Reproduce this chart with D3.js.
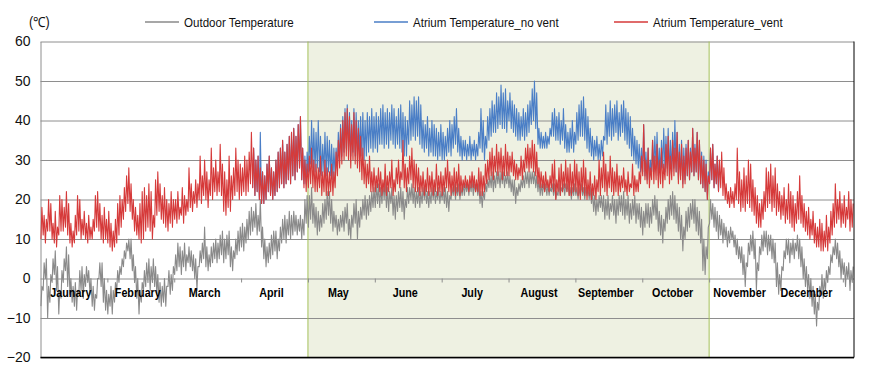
<!DOCTYPE html>
<html><head><meta charset="utf-8">
<script src="https://cdn.jsdelivr.net/npm/d3@7"></script>
<style>body{margin:0;background:#fff}svg{display:block}</style>
</head><body><svg id="c" width="874" height="382"></svg>
<script>
// ---- categories / ticks ----
const months = ["Jaunary","February","March","April","May","June","July","August","September","October","November","December"];
const yTicks = [-20,-10,0,10,20,30,40,50,60];
const hoursPerMonthTick = 720;
const shadeStartHour = 2880, shadeEndHour = 7200;
const seriesNames = ["Outdoor Temperature","Atrium Temperature_no vent","Atrium Temperature_vent"];

// ---- daily low / high (°C), day 0..364 ----
const outdoorLow = [
-7,-3,0,-10,-6,-1,1,-3,-9,-5, -1,2,-2,-4,-6,-7,-8,-4,-3,-5, -2,-1,-4,-7,-8,-5,0,-2,-6,-8,
-9,-7,-9,-6,-3,-1,1,3,5,7, 5,2,-1,-5,-9,-6,-3,-2,-1,-3, -1,-2,-4,-6,-7,-6,-7,-2,-4,-3,
1,2,3,1,3,2,4,3,2,0, -3,3,4,5,3,2,3,4,5,4, 5,6,4,5,6,3,2,5,6,7,
8,7,9,10,11,12,13,11,12,8, 5,3,4,5,6,7,5,7,9,10, 9,11,10,11,12,11,12,10,11,14,
13,15,14,13,11,12,13,14,15,16, 14,12,13,11,12,13,12,14,11,10, 13,14,10,13,15,16,15,16,17,18,
18,19,18,19,20,18,17,19,16,15, 17,18,17,15,18,19,20,19,18,19, 18,19,20,19,18,19,20,19,20,19,
20,19,18,17,20,21,20,21,20,21, 21,22,21,22,21,22,21,19,18,20, 22,23,23,22,23,24,23,24,23,24,
23,22,21,19,21,22,23,23,24,23, 24,24,23,22,21,21,22,21,21,22, 21,20,21,21,22,21,22,21,20,21,
21,20,21,21,20,21,20,19,17,16, 17,18,17,15,16,15,17,16,14,16, 17,16,15,16,14,15,16,14,15,13,
11,13,14,13,14,16,15,12,11,9, 12,14,15,16,15,14,12,10,7,10, 12,13,15,14,12,11,9,2,1,5,
14,15,13,12,10,11,9,10,8,9, 10,8,6,5,4,1,-2,3,6,7, 5,-3,2,6,7,8,6,7,5,4,
-2,-4,-3,2,5,6,4,6,5,7, 5,3,0,-2,-3,-5,-7,-9,-12,-8, -4,-5,-3,-1,1,4,6,5,3,0,
1,-2,0,-3,-1];
const outdoorHigh = [
-2,4,5,-2,1,5,7,3,-3,2, 5,8,6,0,-2,-1,-3,2,3,1, 3,2,0,-2,-4,0,4,4,0,-3,
-4,-2,-3,-1,2,3,5,7,9,10, 10,6,3,0,-3,-1,2,4,5,3, 5,3,1,-1,-2,0,-2,2,1,3,
6,9,8,7,9,6,8,7,6,5, 3,7,9,13,8,6,8,9,10,9, 11,12,10,11,12,8,7,10,12,13,
14,13,15,17,18,17,19,16,20,13, 10,8,9,11,12,12,10,13,15,16, 15,17,16,17,16,15,16,15,20,21,
21,23,19,18,17,16,19,20,22,22, 20,17,16,15,16,17,18,19,15,16, 19,20,17,18,20,21,20,21,22,23,
24,24,23,24,25,23,22,23,21,21, 22,23,22,20,23,23,24,23,22,23, 22,23,23,22,22,23,23,22,23,22,
23,23,22,21,23,24,23,24,23,24, 24,24,24,25,24,24,24,22,22,24, 25,26,27,26,27,27,27,27,26,27,
26,25,25,23,24,25,26,27,27,27, 27,27,26,25,24,24,24,24,23,24, 24,22,24,23,24,24,24,23,23,24,
23,23,24,23,23,23,23,22,21,20, 21,21,21,20,21,19,21,20,20,21, 21,22,20,21,19,20,21,19,19,18,
17,19,19,18,20,21,20,17,16,15, 18,20,21,22,21,19,18,16,13,17, 18,19,20,20,18,17,15,10,8,13,
20,19,18,17,16,15,14,13,12,13, 12,11,10,8,8,6,4,9,11,12, 10,4,8,11,12,12,11,11,10,9,
4,1,3,7,10,10,9,10,9,11, 10,8,5,3,1,0,-2,-4,-6,-2, 1,0,2,3,6,8,10,9,7,5,
4,3,4,2,3];
const ventLow = [
10,11,9,12,12,10,9,8,11,12, 12,13,11,9,8,9,11,12,10,11, 10,9,10,10,12,13,12,10,9,10,
9,8,7,8,9,11,13,15,17,19, 17,15,12,11,10,9,10,12,13,12, 10,13,16,17,15,14,13,12,14,13,
15,14,15,16,14,16,17,18,17,19, 18,20,19,21,20,18,21,20,22,21, 22,21,17,16,18,17,20,21,22,20,
21,22,21,22,24,23,21,22,20,19, 19,20,22,21,20,21,22,23,24,23, 24,25,24,26,25,27,28,25,23,22,
23,24,23,22,22,23,21,22,21,21, 22,21,23,26,28,29,30,31,30,28, 30,29,28,27,25,24,23,24,22,22,
22,23,22,21,22,21,22,23,21,22, 24,23,25,23,22,24,25,23,22,22, 21,22,21,22,21,22,21,22,21,22,
21,22,23,22,21,22,21,22,21,22, 23,23,22,23,23,22,22,21,21,22, 24,25,26,25,27,26,27,25,26,26,
26,27,26,25,25,26,25,27,28,27, 28,27,26,24,23,23,22,23,22,23, 22,20,22,21,22,23,22,21,21,22,
22,21,20,22,21,20,21,20,21,20, 22,21,23,22,21,23,22,21,22,21, 22,23,22,21,22,23,21,22,22,24,
26,25,24,23,25,24,25,23,24,23, 25,26,24,25,26,27,24,25,23,24, 26,25,27,26,27,25,24,23,22,20,
24,25,23,24,22,23,21,20,19,18, 19,18,20,19,17,18,17,19,18,17, 16,14,13,13,15,17,18,19,17,18,
16,17,15,16,14,15,14,13,12,14, 15,14,13,12,11,10,11,9,8,8, 7,7,8,7,9,11,13,14,15,13,
14,13,15,12,13];
const ventHigh = [
18,16,15,20,19,14,17,13,21,20, 18,22,19,14,12,16,21,20,15,17, 14,16,13,15,21,22,19,16,18,15,
17,14,12,15,19,21,20,23,26,28, 24,20,18,16,19,22,23,21,24,22, 16,25,27,24,21,23,20,19,22,20,
20,22,18,23,21,20,28,24,22,25, 24,31,26,30,27,25,33,28,30,27, 34,29,27,25,31,26,28,33,30,29,
28,31,30,32,37,33,30,31,28,27, 26,29,31,28,27,30,32,33,35,32, 34,36,37,38,36,39,41,33,30,29,
31,33,30,29,28,31,27,30,28,27, 29,27,32,35,38,40,42,43,41,39, 42,40,38,36,33,30,29,31,27,28,
26,28,27,25,29,26,27,30,25,28, 30,27,35,29,28,31,33,30,29,28, 26,27,25,28,26,27,25,29,26,27,
26,28,30,27,26,28,27,29,26,25, 26,25,26,27,26,25,28,27,26,29, 30,32,33,31,34,32,33,31,34,32,
31,32,30,29,28,31,30,33,34,33, 35,34,32,28,27,26,27,25,26,29, 30,25,28,29,27,30,28,29,27,30,
29,27,28,30,28,25,27,24,26,25, 30,28,32,29,27,31,28,27,29,26, 26,28,25,27,24,29,26,25,27,31,
39,30,33,28,35,31,34,30,33,29, 34,36,31,35,33,37,32,34,31,33, 35,32,38,33,37,35,31,30,29,26,
33,34,29,31,30,32,28,24,22,23, 22,24,33,27,25,28,26,30,29,25, 23,21,19,20,22,28,27,29,26,28,
24,22,21,23,20,24,22,21,19,22, 26,21,19,17,18,15,17,14,13,15, 14,12,16,13,17,19,24,20,22,19,
21,18,22,20,19];
// no-vent series differs from the vent series only around the summer: days 95..304
const noVentStartDay = 95;
const noVentLow = [
23,21,22,20,19,
19,20,22,21,20,21,22,23,24,23, 24,25,24,26,25,27,28,25,24,24,
27,29,28,27,28,27,26,27,26,27, 26,25,26,28,30,31,32,33,32,31, 32,31,31,32,31,30,31,32,33,32,
33,32,34,34,33,34,33,35,34,33, 34,33,32,31,31,34,35,36,35,36, 34,33,32,33,31,32,31,31,30,31,
30,30,31,32,31,33,34,32,31,30, 31,30,31,30,31,30,31,33,32,30, 33,35,36,37,37,38,39,38,38,37,
40,38,37,36,35,35,36,35,36,37, 39,40,38,34,33,33,33,33,34,36, 36,35,35,34,35,33,32,32,33,32,
34,35,36,36,35,33,32,31,30,31, 30,30,31,35,34,36,35,36,37,35, 36,37,35,34,33,31,30,29,28,27,
27,26,25,25,27,27,28,26,27,28, 27,28,26,27,28,27,25,26,24,25, 26,25,27,26,27,25,24,23,22,20,
24,25,23,24,22];
const noVentHigh = [
33,30,31,37,27,
26,29,31,28,27,30,32,33,35,32, 34,36,37,38,36,39,41,33,31,32,
36,40,38,37,40,36,34,37,36,35, 34,33,33,37,39,41,43,44,42,40, 43,42,40,41,42,40,42,41,43,41,
42,41,43,44,42,43,42,44,43,41, 43,44,42,41,40,45,44,46,45,46, 44,40,39,41,38,40,39,38,37,39,
37,36,38,40,39,41,43,38,36,35, 35,34,36,34,35,34,37,43,40,36, 41,43,45,44,47,46,49,47,48,45,
47,45,44,43,42,41,43,42,44,45, 48,50,47,38,37,36,37,36,38,42, 43,41,42,40,43,39,37,38,40,37,
42,44,45,46,43,41,38,36,35,36, 34,35,36,44,42,45,43,44,45,42, 44,45,43,42,41,38,36,35,34,33,
39,32,33,30,35,36,37,33,35,38, 36,38,35,37,40,37,34,35,33,34, 35,33,38,34,37,35,32,31,30,27,
33,34,29,31,30];

// ---- drawing ----
const svg = d3.select("#c");
const FONT = "'Liberation Sans', Arial, sans-serif";
const x = d3.scaleLinear().domain([0, 8760]).range([40.5, 854]);
const y = d3.scaleLinear().domain([-20, 60]).range([357.5, 41.5]);
const colors = {outdoor: "#8a8a8a", noVent: "#4a7ec6", vent: "#d63a3a"};

// shaded ventilation period
svg.append("rect")
  .attr("x", x(shadeStartHour)).attr("y", y(60))
  .attr("width", x(shadeEndHour) - x(shadeStartHour))
  .attr("height", y(-20) - y(60))
  .attr("fill", "#eef1e2");

// horizontal gridlines
svg.append("g")
  .attr("transform", `translate(${x(0)},0)`)
  .call(d3.axisLeft(y).tickValues(yTicks).tickSize(-(x(8760) - x(0))).tickFormat(""))
  .call(g => g.select(".domain").remove())
  .call(g => g.selectAll("line").attr("stroke", "#8e8e8e").attr("stroke-width", 1));

// shade borders
[shadeStartHour, shadeEndHour].forEach(h => {
  svg.append("line").attr("x1", x(h)).attr("x2", x(h)).attr("y1", y(60)).attr("y2", y(-20))
    .attr("stroke", "#a4c05a").attr("stroke-width", 1);
});

// y axis labels
svg.append("g")
  .attr("transform", `translate(${x(0)},0)`)
  .call(d3.axisLeft(y).tickValues(yTicks).tickSize(0).tickPadding(10))
  .call(g => g.select(".domain").attr("stroke", "#8e8e8e"))
  .call(g => g.selectAll("text").attr("font-family", FONT).attr("font-size", 14).attr("fill", "#111"));

// series
function pts(lo, hi, startDay) {
  const p = [];
  for (let i = 0; i < lo.length; i++) {
    const d = startDay + i;
    p.push([d * 24 + 5, lo[i]]);
    p.push([d * 24 + 15, hi[i]]);
  }
  return p;
}
const line = d3.line().x(d => x(d[0])).y(d => y(d[1]));
const series = [
  {data: pts(outdoorLow, outdoorHigh, 0), color: colors.outdoor},
  {data: pts(noVentLow, noVentHigh, noVentStartDay), color: colors.noVent},
  {data: pts(ventLow, ventHigh, 0), color: colors.vent}
];
series.forEach(s => {
  svg.append("path").attr("d", line(s.data)).attr("fill", "none")
    .attr("stroke", s.color).attr("stroke-width", 1.1).attr("stroke-linejoin", "round");
});

// x axis at 0 with month ticks
svg.append("g")
  .attr("transform", `translate(0,${y(0)})`)
  .call(d3.axisBottom(x).tickValues(d3.range(hoursPerMonthTick, 8760, hoursPerMonthTick)).tickSize(4).tickFormat(""))
  .call(g => g.select(".domain").remove())
  .call(g => g.selectAll("line").attr("stroke", "#8e8e8e"));

svg.append("g").selectAll("text").data(months).join("text")
  .attr("transform", (d, i) => `translate(${x((i + 0.5) * hoursPerMonthTick) - 3},${y(0) + 18.5}) scale(0.86,1)`)
  .attr("text-anchor", "middle")
  .attr("font-family", FONT).attr("font-weight", "bold").attr("font-size", 12.5)
  .attr("fill", "#000").text(d => d);

// bottom and right borders
svg.append("line").attr("x1", x(0)).attr("x2", x(8760)).attr("y1", y(-20)).attr("y2", y(-20))
  .attr("stroke", "#000").attr("stroke-width", 1.5);
svg.append("line").attr("x1", x(8760)).attr("x2", x(8760)).attr("y1", y(60)).attr("y2", y(-20))
  .attr("stroke", "#000").attr("stroke-width", 1);

// unit label
svg.append("text").attr("transform", "translate(29,27) scale(0.9,1)").attr("font-family", FONT).attr("font-size", 14)
  .attr("fill", "#111").text("(℃)");

// legend
const legend = [
  {name: seriesNames[0], color: colors.outdoor, lx: 145},
  {name: seriesNames[1], color: colors.noVent, lx: 374},
  {name: seriesNames[2], color: colors.vent, lx: 614}
];
legend.forEach(l => {
  svg.append("line").attr("x1", l.lx).attr("x2", l.lx + 34).attr("y1", 22).attr("y2", 22)
    .attr("stroke", l.color).attr("stroke-width", 1.3);
  svg.append("text").attr("transform", `translate(${l.lx + 39},26.5) scale(0.89,1)`)
    .attr("font-family", FONT).attr("font-size", 13).attr("fill", "#111").text(l.name);
});
</script></body></html>
